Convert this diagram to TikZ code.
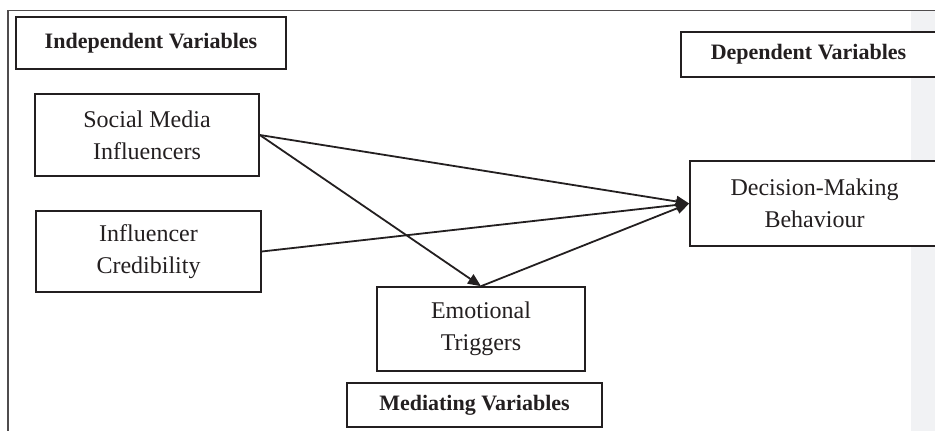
\documentclass[tikz,border=0pt]{standalone}
\usepackage{fontspec}
\setmainfont{Liberation Serif}
\usetikzlibrary{arrows.meta}
\definecolor{ink}{HTML}{231F20}
\definecolor{strip}{HTML}{F1F2F4}
\tikzset{
  varbox/.style={draw=ink, line width=1.6pt, fill=white, inner sep=0pt, align=center,
    text=ink, font=\fontsize{24}{32}\selectfont},
  labbox/.style={draw=ink, line width=1.6pt, fill=white, inner sep=0pt, align=center,
    text=ink, font=\fontsize{22}{26}\selectfont\bfseries},
  link/.style={draw=ink, line width=1.8pt, -{Triangle[length=13pt,width=11pt]}},
  frame/.style={draw=ink!80, line width=1.6pt}
}
\begin{document}
\begin{tikzpicture}[x=1pt,y=-1pt]
\useasboundingbox (0,0) rectangle (935,431);
\fill[strip] (911,11) rectangle (935,431);
\draw[frame] (8,431) -- (8,10.5) -- (935,10.5);

\node[labbox, minimum width=270pt, minimum height=52pt] (indep) at (151,43) {Independent Variables};
\node[labbox, minimum width=255pt, minimum height=45pt] (dep) at (808.5,54.5) {Dependent Variables};
\node[labbox, minimum width=255pt, minimum height=44pt] (med) at (474.5,405) {Mediating Variables};

\node[varbox, minimum width=224pt, minimum height=82pt] (smi) at (147,135) {Social Media\\Influencers};
\node[varbox, minimum width=225pt, minimum height=81pt] (ic) at (148.5,251.5) {Influencer\\Credibility};
\node[varbox, minimum width=249pt, minimum height=85pt] (dmb) at (814.5,203.5) {Decision-Making\\Behaviour};
\node[varbox, minimum width=208pt, minimum height=84pt] (et) at (481,329) {Emotional\\Triggers};

\draw[link] (smi.east) -- (dmb.west);
\draw[link] (ic.east) -- (dmb.west);
\draw[link] (smi.east) -- (et.north);
\draw[link] (et.north) -- (dmb.west);
\end{tikzpicture}
\end{document}
